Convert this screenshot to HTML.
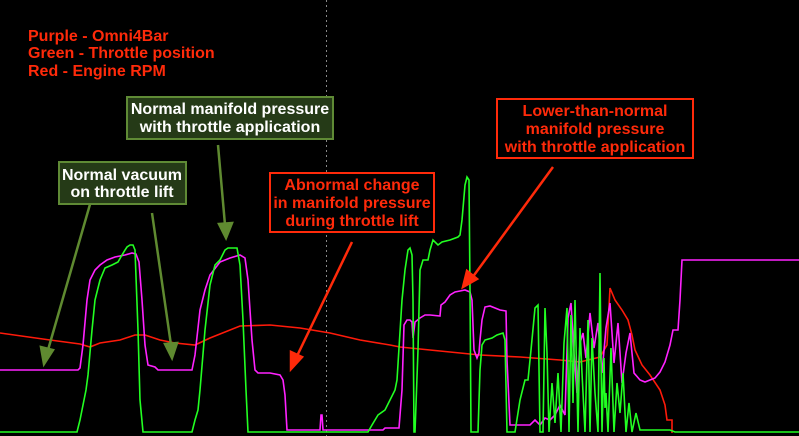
<!DOCTYPE html>
<html><head><meta charset="utf-8"><style>
body{margin:0;background:#000;width:799px;height:436px;overflow:hidden;font-family:"Liberation Sans",sans-serif}
svg{display:block}
</style></head><body>
<svg id="chart" width="799" height="436" viewBox="0 0 799 436">
<rect width="799" height="436" fill="#000"/>
<line x1="326.5" y1="0" x2="326.5" y2="436" stroke="#888" stroke-dasharray="2,3"/>
<g id="series"></g>
<g font-weight="bold" font-size="16" fill="#ff2a0a">
<text x="28" y="41">Purple - Omni4Bar</text>
<text x="28" y="58">Green - Throttle position</text>
<text x="28" y="76">Red - Engine RPM</text>
</g>
<g stroke="#5f8a30" stroke-width="2.5" fill="#5f8a30">
<line x1="95" y1="187" x2="48" y2="350"/><polygon points="44,364 41,347 53,350"/>
<line x1="152" y1="213" x2="171" y2="345"/><polygon points="172,358 165,344 177,343"/>
<line x1="218" y1="145" x2="225" y2="225"/><polygon points="226,238 219,224 232,223"/>
</g>
<g stroke="#ff2a0a" stroke-width="2.5" fill="#ff2a0a">
<line x1="352" y1="242" x2="297" y2="356"/><polygon points="291,369 291,352 302,357"/>
<line x1="553" y1="167" x2="472" y2="278"/><polygon points="463,287 467,271 477,279"/>
</g>
<g>
<rect x="127" y="97" width="206" height="42" fill="#253a17" stroke="#5f8a35" stroke-width="2"/>
<text x="230" y="114" text-anchor="middle" fill="#fff" font-weight="bold" font-size="16">Normal manifold pressure</text>
<text x="230" y="132" text-anchor="middle" fill="#fff" font-weight="bold" font-size="16">with throttle application</text>
</g>
<g>
<rect x="59" y="162" width="127" height="42" fill="#253a17" stroke="#5f8a35" stroke-width="2"/>
<text x="122" y="180" text-anchor="middle" fill="#fff" font-weight="bold" font-size="16">Normal vacuum</text>
<text x="122" y="197" text-anchor="middle" fill="#fff" font-weight="bold" font-size="16">on throttle lift</text>
</g>
<g>
<rect x="270" y="173" width="164" height="59" fill="#000" stroke="#ff2a0a" stroke-width="2"/>
<text x="352" y="190" text-anchor="middle" fill="#ff2a0a" font-weight="bold" font-size="16">Abnormal change</text>
<text x="352" y="208" text-anchor="middle" fill="#ff2a0a" font-weight="bold" font-size="16">in manifold pressure</text>
<text x="352" y="226" text-anchor="middle" fill="#ff2a0a" font-weight="bold" font-size="16">during throttle lift</text>
</g>
<g>
<rect x="497" y="99" width="196" height="59" fill="#000" stroke="#ff2a0a" stroke-width="2"/>
<text x="595" y="116" text-anchor="middle" fill="#ff2a0a" font-weight="bold" font-size="16">Lower-than-normal</text>
<text x="595" y="134" text-anchor="middle" fill="#ff2a0a" font-weight="bold" font-size="16">manifold pressure</text>
<text x="595" y="152" text-anchor="middle" fill="#ff2a0a" font-weight="bold" font-size="16">with throttle application</text>
</g>
</svg>
<script>
// time samples and values (value units: 0 = floor of trace area)
const redT=[0,50,80,90,100,120,135,145,160,175,195,210,240,270,300,330,360,390,400,450,480,520,560,580,600,607,610,615,622,628,632,635,642,650,660,665,667,672,672];
const redV=[100,93,89,86,90,93,98,98,93,90,88,95,107,108,105,100,93,88,86,81,78,76,73,71,76,88,145,133,123,113,98,83,68,58,43,28,13,13,0];
const magT=[0,78,80,83,87,90,95,100,107,115,125,132,136,139,142,145,148,155,158,192,195,200,205,210,220,230,240,245,248,252,255,258,270,280,283,285,287,320,321,322,323,383,385,399,402,404,407,410,412,413,415,420,425,430,440,441,445,450,455,460,465,470,472,474,477,479,480,482,485,490,500,506,507,510,530,535,540,545,550,555,560,565,568,571,574,577,580,583,586,590,594,598,602,606,610,614,618,622,626,630,634,640,645,650,655,660,665,670,673,678,680,682,799];
const magV=[63,63,65,88,133,153,163,168,173,176,178,180,179,171,133,88,68,66,63,63,78,123,143,158,171,175,178,175,153,93,63,60,60,58,53,38,3,3,18,18,3,3,5,5,43,108,113,113,111,95,111,115,118,118,117,128,131,138,141,142,143,141,133,83,75,80,93,113,126,127,123,122,73,8,8,13,8,15,13,18,28,18,115,130,80,40,90,100,75,120,85,110,60,105,130,70,110,50,80,100,60,53,51,53,55,61,71,88,103,103,133,173,173];
const grnT=[0,77,80,83,86,88,92,95,100,105,112,118,122,125,127,130,133,135,138,140,143,192,195,198,200,205,210,215,220,225,228,237,240,243,246,248,368,372,378,385,390,395,397,402,405,408,410,412,413,414,415,418,420,423,428,430,433,438,442,450,458,460,462,465,467,469,470,471,478,480,482,485,492,497,503,505,507,515,520,525,528,531,535,538,540,543,545,547,549,552,555,558,561,564,567,569,571,573,575,578,580,582,585,588,590,592,595,598,600,602,604,605,606,608,611,614,617,620,623,626,629,632,636,640,670,675,799];
const grnV=[1,1,13,28,43,58,103,133,153,165,168,171,178,183,186,188,188,183,103,33,1,1,13,23,43,103,148,168,173,183,185,185,168,113,43,1,1,8,18,23,33,43,53,133,163,183,185,178,133,1,1,83,163,173,173,183,193,188,191,193,196,198,213,248,256,253,143,1,1,63,88,93,95,98,100,93,1,1,33,53,53,83,125,128,1,1,125,80,1,50,10,60,1,90,125,1,118,30,133,1,105,60,1,113,1,95,40,1,160,1,75,25,40,1,85,1,50,20,60,1,30,1,20,3,3,1,1];
const X0=0,Y0=433;
function sx(t){return X0+t;}
function sy(v){return Y0-v;}
function draw(ts,vs,color,name){
  const g=document.getElementById('series');
  const p=document.createElementNS('http://www.w3.org/2000/svg','polyline');
  p.setAttribute('points',ts.map((t,i)=>sx(t)+','+sy(vs[i])).join(' '));
  p.setAttribute('fill','none');p.setAttribute('stroke',color);p.setAttribute('stroke-width','1.6');
  
  
  g.appendChild(p);
}
draw(redT,redV,'#ff1a0a','rpm-line');
draw(magT,magV,'#ff22ff','omni4bar-line');
draw(grnT,grnV,'#22ff22','throttle-line');
</script>
</body></html>
